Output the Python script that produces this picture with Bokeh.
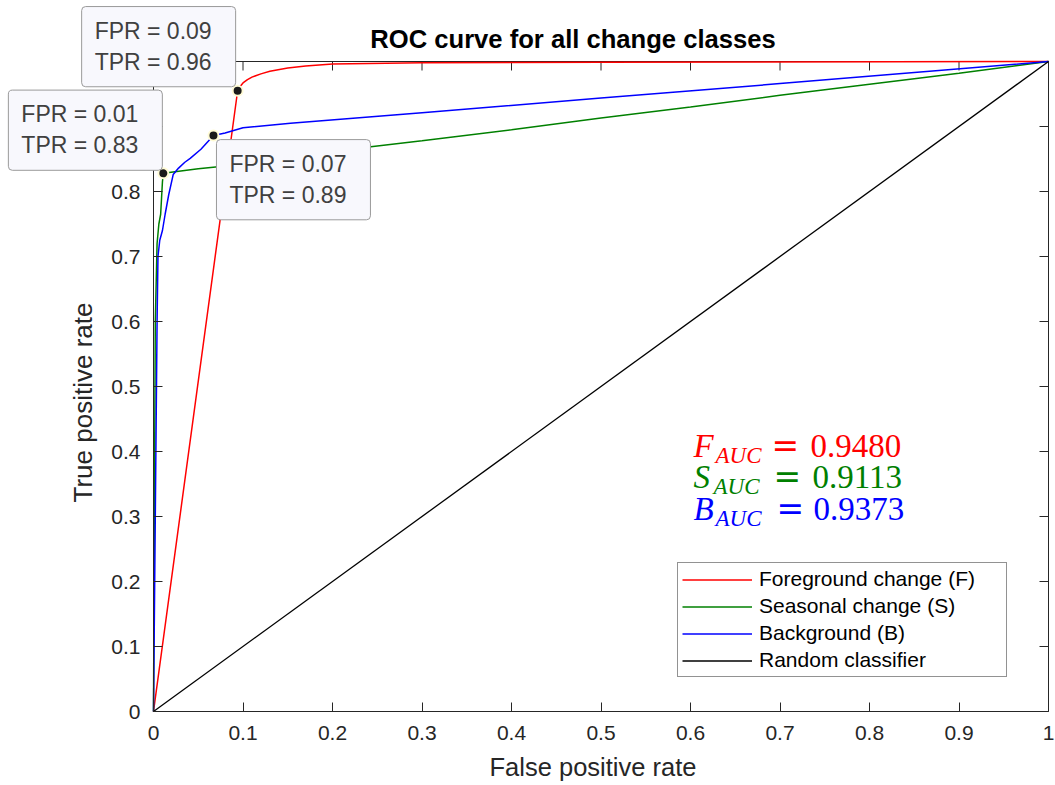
import math
from bokeh.plotting import figure
from bokeh.models import Label, Legend, LegendItem, FixedTicker, Range1d
from bokeh.embed import file_html
from bokeh.resources import INLINE

# ---------------- data ----------------
fpr_f = [0.0, 0.094, 0.097, 0.100, 0.105, 0.110, 0.120, 0.130, 0.150, 0.170, 0.200, 0.300, 0.500, 1.0]
tpr_f = [0.0, 0.955, 0.962, 0.967, 0.972, 0.976, 0.981, 0.985, 0.990, 0.993, 0.996, 0.998, 0.999, 1.0]

fpr_s = [0.0, 0.001, 0.002, 0.004, 0.006, 0.008, 0.009, 0.010, 0.011, 0.050, 0.100, 0.200, 0.300, 0.400, 0.500, 0.600, 0.700, 0.800, 0.900, 1.0]
tpr_s = [0.0, 0.300, 0.600, 0.720, 0.750, 0.765, 0.790, 0.815, 0.828, 0.835, 0.842, 0.862, 0.878, 0.895, 0.913, 0.930, 0.948, 0.965, 0.982, 1.0]

fpr_b = [0.0, 0.002, 0.004, 0.005, 0.007, 0.010, 0.013, 0.017, 0.022, 0.028, 0.035, 0.041, 0.053, 0.067, 0.080, 0.100, 0.153, 0.300, 0.500, 0.700, 1.0]
tpr_b = [0.0, 0.300, 0.600, 0.700, 0.725, 0.740, 0.765, 0.795, 0.826, 0.836, 0.845, 0.851, 0.865, 0.886, 0.890, 0.898, 0.905, 0.921, 0.944, 0.966, 1.0]

fpr_r = [0.0, 1.0]
tpr_r = [0.0, 1.0]

series_names = ["Foreground change (F)", "Seasonal change (S)", "Background (B)", "Random classifier"]
series_colors = ["#ff0000", "#008000", "#0000ff", "#000000"]

tip_fpr = [0.094, 0.011, 0.067]
tip_tpr = [0.955, 0.828, 0.886]
tip_texts = ["FPR = 0.09\nTPR = 0.96", "FPR = 0.01\nTPR = 0.83", "FPR = 0.07\nTPR = 0.89"]

auc_letters = ["F", "S", "B"]
auc_values = ["0.9480", "0.9113", "0.9373"]

tick_values = [0.0, 0.1, 0.2, 0.3, 0.4, 0.5, 0.6, 0.7, 0.8, 0.9, 1.0]
tick_labels = ["0", "0.1", "0.2", "0.3", "0.4", "0.5", "0.6", "0.7", "0.8", "0.9", "1"]

title_text = "ROC curve for all change classes"
xlabel_text = "False positive rate"
ylabel_text = "True positive rate"

# ---------------- layout constants (pixels) ----------------
W, H = 1055, 784
PX_X = 895.0        # pixels per unit on x
PX_Y = 650.0        # pixels per unit on y
LEFT = 153          # canvas x of FPR = 0
TOP = 61            # canvas y of TPR = 1
AX = "#262626"
SANS = "Liberation Sans"
SERIF = "Liberation Serif"


def bl(size):
    """correction (px) between requested and drawn alphabetic baseline"""
    return 0.35 * size


x_start = -LEFT / PX_X
x_end = (W - LEFT) / PX_X
y_end = 1 + TOP / PX_Y
y_start = 1 - (H - TOP) / PX_Y

p = figure(width=W, height=H, min_border=0,
           x_range=Range1d(x_start, x_end), y_range=Range1d(y_start, y_end),
           output_backend="svg", toolbar_location=None)
p.grid.visible = False
p.outline_line_color = None
p.background_fill_color = "white"
p.border_fill_color = "white"

overrides = {v: l for v, l in zip(tick_values, tick_labels)}
for ax in (p.xaxis[0], p.yaxis[0]):
    ax.fixed_location = 0
    ax.bounds = (0, 1)
    ax.ticker = FixedTicker(ticks=tick_values)
    ax.major_label_overrides = overrides
    ax.axis_line_color = AX
    ax.axis_line_width = 1
    ax.major_tick_line_color = AX
    ax.major_tick_in = 9
    ax.major_tick_out = 0
    ax.minor_tick_line_color = None
    ax.major_label_text_font = SANS
    ax.major_label_text_font_size = "21px"
    ax.major_label_text_color = AX
p.xaxis[0].major_label_standoff = 14
p.yaxis[0].major_label_standoff = 13

# box: top and right edges, with inward ticks
p.segment(x0=[0, 1], y0=[1, 0], x1=[1, 1], y1=[1, 1], line_color=AX, line_width=1)
p.ray(x=tick_values, y=[1] * len(tick_values), length=9, length_units="screen",
      angle=-math.pi / 2, line_color=AX, line_width=1)
p.ray(x=[1] * len(tick_values), y=tick_values, length=9, length_units="screen",
      angle=math.pi, line_color=AX, line_width=1)

# titles / axis labels
p.add_layout(Label(x=0.5, y=1, x_offset=-28, y_offset=(TOP - 47) + bl(25.6), text=title_text,
                   text_align="center", text_baseline="alphabetic", text_font=SANS,
                   text_font_size="25.6px", text_font_style="bold", text_color="#000000"))
p.add_layout(Label(x=0.5, y=0, x_offset=-8, y_offset=-(775 - (TOP + PX_Y)) + bl(25.5),
                   text=xlabel_text, text_align="center", text_baseline="alphabetic",
                   text_font=SANS, text_font_size="25.5px", text_color=AX))
p.add_layout(Label(x=0, y=0.5, x_offset=(92 - LEFT) - bl(26), y_offset=-16, text=ylabel_text,
                   text_align="center", text_baseline="alphabetic", angle=math.pi / 2,
                   text_font=SANS, text_font_size="26px", text_color=AX))

# ---------------- curves ----------------
xs = [fpr_f, fpr_s, fpr_b, fpr_r]
ys = [tpr_f, tpr_s, tpr_b, tpr_r]
widths = [1.5, 1.5, 1.5, 1.3]
renderers = []
for x, y, c, w in zip(xs, ys, series_colors, widths):
    renderers.append(p.line(x, y, line_color=c, line_width=w))

# data tips
p.scatter(tip_fpr, tip_tpr, size=10, marker="circle",
          fill_color="#1a1a1a", line_color="#fffbd5", line_width=2)

tip_anchor = ["bottom_right", "bottom_right", "top_left"]
tip_dx = [-2, -1, 3]
tip_dy = [4, 3, -4]
for fx, ty, txt, anc, dx, dy in zip(tip_fpr, tip_tpr, tip_texts, tip_anchor, tip_dx, tip_dy):
    p.add_layout(Label(x=fx, y=ty, text=txt, anchor=anc, x_offset=dx, y_offset=dy,
                       text_font=SANS, text_font_size="23px", text_color="#404040",
                       text_line_height=1.2,
                       background_fill_color="#f8f8fd", background_fill_alpha=1.0,
                       border_line_color="#9a9a9a", border_line_width=1,
                       border_radius=4,
                       padding=dict(left=13, right=24, top=11, bottom=12)))

# AUC annotations (LaTeX-like)
auc_x = (693 - LEFT) / PX_X
auc_base = [457, 488, 520]             # baselines (canvas px)
sub_dx = [22, 20, 22]
eq_dx = [78, 80, 83]
num_dx = [117, 119, 120]
for letter, val, col, base, sdx, edx, ndx in zip(auc_letters, auc_values, series_colors[:3],
                                                 auc_base, sub_dx, eq_dx, num_dx):
    yy = (TOP + PX_Y - base) / PX_Y
    p.add_layout(Label(x=auc_x, y=yy, y_offset=bl(33), text=letter, text_font=SERIF,
                       text_font_style="italic", text_font_size="33px", text_color=col,
                       text_baseline="alphabetic"))
    p.add_layout(Label(x=auc_x, y=yy, text="AUC", x_offset=sdx, y_offset=-6 + bl(23),
                       text_font=SERIF, text_font_style="italic", text_font_size="23px",
                       text_color=col, text_baseline="alphabetic"))
    p.add_layout(Label(x=auc_x, y=yy, text="=", x_offset=edx, y_offset=bl(33),
                       text_font="DejaVu Serif", text_font_size="33px", text_color=col,
                       text_baseline="alphabetic"))
    p.add_layout(Label(x=auc_x, y=yy, text=val, x_offset=ndx, y_offset=bl(33), text_font=SERIF,
                       text_font_size="33px", text_color=col, text_baseline="alphabetic"))

# legend
legend = Legend(items=[LegendItem(label=n, renderers=[r]) for n, r in zip(series_names, renderers)],
                location=(677, H - 677))
legend.label_text_font = SANS
legend.label_text_font_size = "21px"
legend.label_text_color = "#000000"
legend.glyph_width = 70
legend.glyph_height = 21
legend.label_height = 21
legend.label_width = 243
legend.label_standoff = 7
legend.spacing = 3
legend.padding = 4
legend.margin = 0
legend.border_line_color = AX
legend.border_line_width = 1
legend.background_fill_color = "white"
legend.background_fill_alpha = 1.0
p.add_layout(legend, "center")

open("out.html", "w").write(file_html(p, INLINE))
